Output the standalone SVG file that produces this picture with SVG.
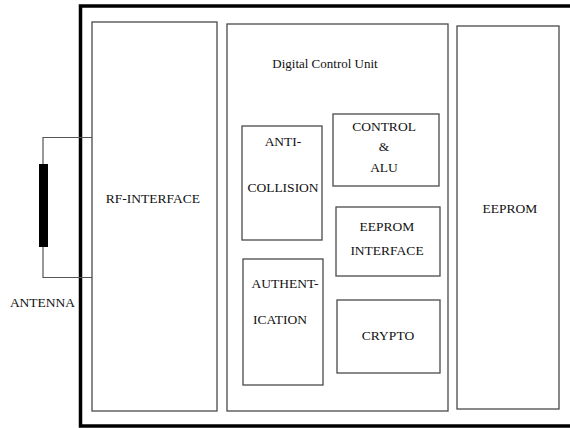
<svg xmlns="http://www.w3.org/2000/svg" width="570" height="428" viewBox="0 0 570 428">
  <style>
    .box { fill: #ffffff; stroke: #4a4a4a; stroke-width: 1.3; }
    text { font-family: 'Liberation Serif', 'DejaVu Serif', serif; fill: #111111; text-anchor: middle; }
    .lbl { font-size: 13.5px; }
    .title { font-size: 13px; }
    .wire { fill: none; stroke: #555555; stroke-width: 1.2; }
  </style>
  <rect width="570" height="428" fill="#ffffff"/>

  <!-- chip outline (open on the right) -->
  <g id="chip">
    <rect x="80.5" y="6" width="530" height="420" fill="none" stroke="#000000" stroke-width="3.5"/>
  </g>

  <!-- antenna coil leads -->
  <g id="connectors">
    <polyline class="wire" points="92,137.5 43,137.5 43,164"/>
    <polyline class="wire" points="43,247 43,277.5 92,277.5"/>
  </g>

  <g id="antenna">
    <rect x="39" y="164" width="9" height="83" fill="#000000"/>
    <text class="lbl" x="42.5" y="307" font-family="Liberation Serif, serif">ANTENNA</text>
  </g>

  <g id="rf-interface">
    <rect class="box" x="92" y="22" width="125" height="389"/>
    <text class="lbl" x="153" y="203">RF-INTERFACE</text>
  </g>

  <g id="digital-control-unit">
    <rect class="box" x="227" y="24" width="221" height="387"/>
    <text class="title" x="325" y="68">Digital Control Unit</text>
  </g>

  <g id="anti-collision">
    <rect class="box" x="242" y="126" width="80" height="114"/>
    <text class="lbl" x="283" y="146">ANTI-</text>
    <text class="lbl" x="283" y="192">COLLISION</text>
  </g>

  <g id="authentication">
    <rect class="box" x="243" y="259" width="80" height="126"/>
    <text class="lbl" x="285" y="288">AUTHENT-</text>
    <text class="lbl" x="280" y="324">ICATION</text>
  </g>

  <g id="control-alu">
    <rect class="box" x="333" y="114" width="106" height="72"/>
    <text class="lbl" x="384" y="131">CONTROL</text>
    <text class="lbl" x="384" y="151">&amp;</text>
    <text class="lbl" x="384" y="172">ALU</text>
  </g>

  <g id="eeprom-interface">
    <rect class="box" x="336" y="207" width="104" height="69"/>
    <text class="lbl" x="387" y="231">EEPROM</text>
    <text class="lbl" x="387" y="255">INTERFACE</text>
  </g>

  <g id="crypto">
    <rect class="box" x="337" y="300" width="103" height="73"/>
    <text class="lbl" x="388" y="340">CRYPTO</text>
  </g>

  <g id="eeprom">
    <rect class="box" x="457" y="26" width="102" height="383"/>
    <text class="lbl" x="510" y="213">EEPROM</text>
  </g>
</svg>
